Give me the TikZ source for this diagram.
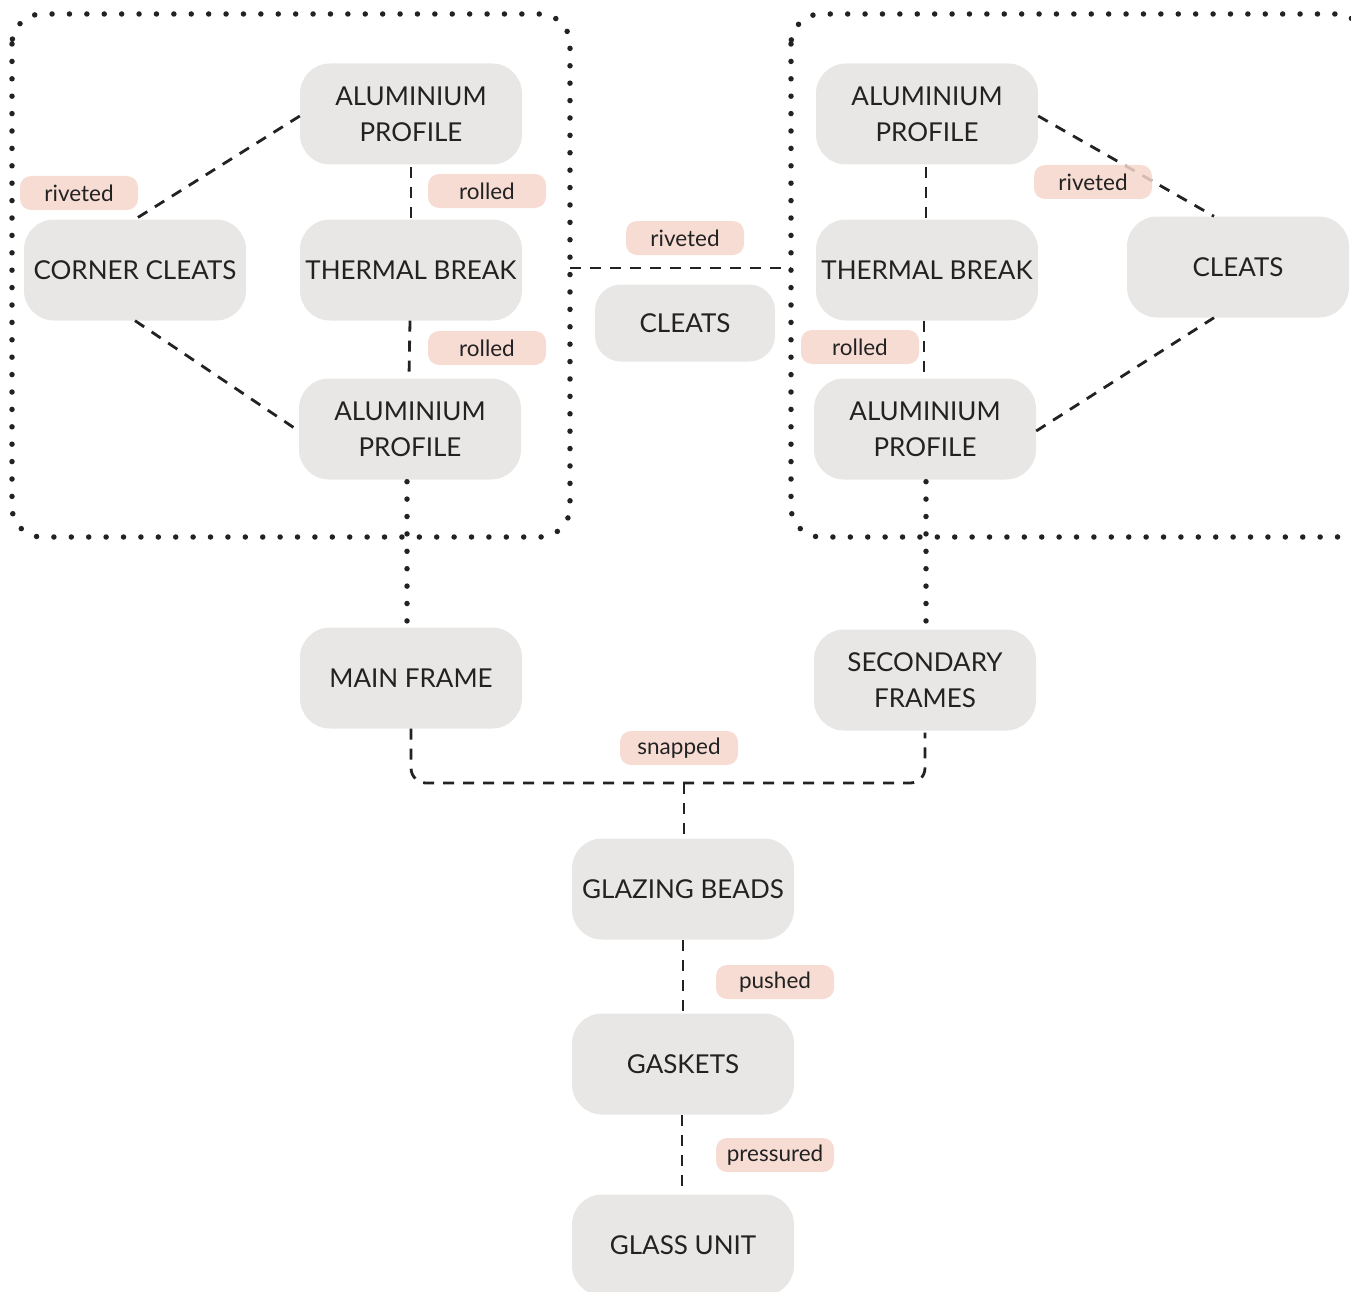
\documentclass[tikz,border=0pt]{standalone}
\usepackage{fontspec}
\setmainfont{Lato}
\usetikzlibrary{calc}
\definecolor{boxfill}{HTML}{E9E7E5}
\definecolor{tagfill}{HTML}{F6D6CD}
\definecolor{ink}{HTML}{222222}
\begin{document}
\begin{tikzpicture}[x=1pt,y=-1pt,
  part/.style={fill=boxfill, rounded corners=30pt, minimum width=222pt, minimum height=101pt,
    inner sep=0pt, align=center, text=ink, font=\fontsize{26}{36}\selectfont},
  smallpart/.style={part, minimum width=180pt, minimum height=77pt, rounded corners=26pt},
  tag/.style={fill=tagfill, fill opacity=0.85, text opacity=1, rounded corners=11pt,
    minimum width=118pt, minimum height=34pt, inner sep=0pt, text=ink,
    font=\fontsize{22.5}{24}\selectfont},
  joint/.style={draw=ink, line width=2.8pt, dash pattern=on 11pt off 9pt},
  group/.style={draw=ink, line width=5.5pt, line cap=round, dash pattern=on 0pt off 17.4pt},
]
\useasboundingbox (0,0) rectangle (1351,1292);

% assembly outlines
\draw[group, rounded corners=30pt] (12,14) rectangle (570,537);
\draw[group, rounded corners=30pt] (791,14) rectangle (1366,537);

% parts
\node[part] (apl1) at (411,114) {ALUMINIUM\\PROFILE};
\node[part] (tbl)  at (411,270) {THERMAL BREAK};
\node[part] (apl2) at (410,429) {ALUMINIUM\\PROFILE};
\node[part] (cc)   at (135,270) {CORNER CLEATS};

\node[smallpart] (mcl) at (685,323) {CLEATS};

\node[part] (apr1) at (927,114) {ALUMINIUM\\PROFILE};
\node[part] (tbr)  at (927,270) {THERMAL BREAK};
\node[part] (apr2) at (925,429) {ALUMINIUM\\PROFILE};
\node[part] (rcl)  at (1238,267) {CLEATS};

\node[part] (mf) at (411,678) {MAIN FRAME};
\node[part] (sf) at (925,680) {SECONDARY\\FRAMES};

\node[part] (gb) at (683,889) {GLAZING BEADS};
\node[part] (gk) at (683,1064) {GASKETS};
\node[part] (gu) at (683,1245) {GLASS UNIT};

\coordinate (lgr) at (570,268);
\coordinate (rgl) at (791,268);
\coordinate (jn) at (684,783);

% joints
\draw[joint] ([yshift=-2pt]apl1.west) -- (cc.north);
\draw[joint] (cc.south) -- ([yshift=-2pt]apl2.west);
\draw[joint] ([yshift=-2pt]apl1.south) -- (tbl.north);
\draw[joint] ([xshift=-1pt]tbl.south) -- ([xshift=-1pt,yshift=2pt]apl2.north);

\draw[joint] (lgr) -- (rgl);

\draw[joint] ([yshift=-2pt]apr1.east) -- ([xshift=-24pt]rcl.north);
\draw[joint] ([yshift=-2pt]apr2.east) -- ([xshift=-24pt]rcl.south);
\draw[joint] ([xshift=-1pt,yshift=-2pt]apr1.south) -- ([xshift=-1pt]tbr.north);
\draw[joint] ([xshift=-3pt]tbr.south) -- ([xshift=-1pt,yshift=2pt]apr2.north);

\draw[group] ([xshift=-3pt,yshift=-2pt]apl2.south) -- ([xshift=-4pt]mf.north);
\draw[group] ([xshift=1pt,yshift=-2pt]apr2.south) -- ([xshift=1pt,yshift=2pt]sf.north);

\draw[joint, rounded corners=15pt] (mf.south) |- (jn) -| ([yshift=-2pt]sf.south);
\draw[joint] (jn) -- ([xshift=1pt]gb.north);
\draw[joint] (gb.south) -- (gk.north);
\draw[joint] ([xshift=-1pt]gk.south) -- ([xshift=-1pt]gu.north);

% joint labels
\node[tag] (t1) at (79,193) {riveted};
\node[tag] (t2) at (487,191) {rolled};
\node[tag] (t3) at (487,348) {rolled};
\node[tag] (t4) at (685,238) {riveted};
\node[tag] (t5) at (1093,182) {riveted};
\node[tag] (t6) at (860,347) {rolled};
\node[tag] (t7) at (679,748) {snapped};
\node[tag] (t8) at (775,982) {pushed};
\node[tag] (t9) at (775,1155) {pressured};
\end{tikzpicture}
\end{document}
